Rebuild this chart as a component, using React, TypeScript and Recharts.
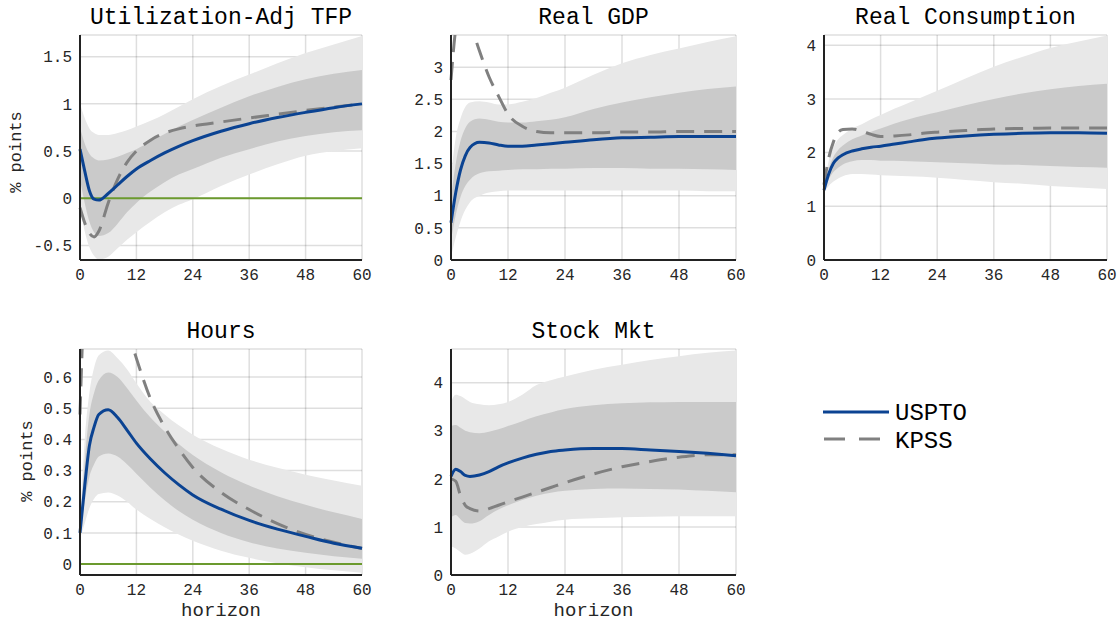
import { ComposedChart, Area, Line, XAxis, YAxis, CartesianGrid, ReferenceLine } from 'recharts';

const horizons = [0, 1, 2, 3, 4, 6, 8, 10, 12, 15, 18, 21, 24, 30, 36, 42, 48, 54, 60];
const xTicks = [0, 12, 24, 36, 48, 60];

// Utilization-Adj TFP
const tfpUspto = [0.52, 0.29, 0.08, -0.01, -0.02, 0.05, 0.14, 0.23, 0.31, 0.40, 0.48, 0.55, 0.61, 0.71, 0.79, 0.855, 0.91, 0.96, 1.00];
const tfpKpss = [-0.10, -0.26, -0.37, -0.41, -0.35, -0.05, 0.20, 0.38, 0.50, 0.615, 0.69, 0.735, 0.765, 0.808, 0.85, 0.89, 0.93, 0.965, 1.00];
const tfpHi90 = [1.00, 0.85, 0.74, 0.69, 0.67, 0.67, 0.69, 0.72, 0.76, 0.82, 0.89, 0.97, 1.05, 1.19, 1.31, 1.43, 1.54, 1.63, 1.72];
const tfpLo90 = [-0.10, -0.35, -0.52, -0.61, -0.65, -0.62, -0.53, -0.44, -0.36, -0.25, -0.15, -0.07, -0.01, 0.13, 0.25, 0.36, 0.45, 0.50, 0.53];
const tfpHi68 = [0.75, 0.58, 0.47, 0.42, 0.40, 0.41, 0.44, 0.48, 0.52, 0.60, 0.68, 0.76, 0.83, 0.96, 1.08, 1.18, 1.26, 1.32, 1.36];
const tfpLo68 = [0.20, -0.05, -0.25, -0.36, -0.40, -0.37, -0.27, -0.15, -0.05, 0.07, 0.17, 0.25, 0.31, 0.43, 0.52, 0.60, 0.66, 0.70, 0.72];

// Real GDP
const gdpUspto = [0.58, 1.05, 1.40, 1.62, 1.75, 1.83, 1.82, 1.79, 1.77, 1.77, 1.79, 1.81, 1.83, 1.87, 1.90, 1.91, 1.92, 1.92, 1.92];
const gdpKpss = [2.80, 3.60, 3.90, 3.90, 3.70, 3.25, 2.85, 2.55, 2.27, 2.08, 2.00, 1.98, 1.98, 1.98, 1.99, 1.99, 2.00, 2.00, 2.00];
const gdpHi90 = [1.30, 1.90, 2.20, 2.38, 2.45, 2.47, 2.45, 2.42, 2.42, 2.46, 2.52, 2.60, 2.68, 2.88, 3.06, 3.19, 3.29, 3.39, 3.48];
const gdpLo90 = [0.05, 0.35, 0.60, 0.78, 0.90, 1.00, 1.05, 1.07, 1.08, 1.08, 1.08, 1.08, 1.08, 1.08, 1.08, 1.08, 1.08, 1.07, 1.07];
const gdpHi68 = [0.95, 1.50, 1.85, 2.05, 2.15, 2.20, 2.18, 2.15, 2.14, 2.14, 2.16, 2.18, 2.22, 2.35, 2.45, 2.53, 2.60, 2.66, 2.70];
const gdpLo68 = [0.30, 0.70, 0.98, 1.15, 1.25, 1.35, 1.38, 1.39, 1.40, 1.41, 1.41, 1.42, 1.42, 1.43, 1.43, 1.42, 1.42, 1.41, 1.40];

// Real Consumption
const conUspto = [1.30, 1.60, 1.80, 1.90, 1.96, 2.03, 2.07, 2.10, 2.12, 2.16, 2.20, 2.24, 2.27, 2.31, 2.34, 2.36, 2.37, 2.37, 2.36];
const conKpss = [1.40, 1.90, 2.20, 2.38, 2.43, 2.44, 2.40, 2.34, 2.30, 2.31, 2.33, 2.36, 2.38, 2.41, 2.44, 2.45, 2.46, 2.46, 2.46];
const conHi90 = [1.35, 1.85, 2.10, 2.25, 2.33, 2.45, 2.53, 2.62, 2.70, 2.82, 2.93, 3.04, 3.15, 3.38, 3.60, 3.78, 3.95, 4.07, 4.18];
const conLo90 = [1.25, 1.38, 1.46, 1.52, 1.56, 1.60, 1.60, 1.59, 1.58, 1.57, 1.56, 1.55, 1.53, 1.49, 1.45, 1.42, 1.38, 1.35, 1.32];
const conHi68 = [1.32, 1.70, 1.92, 2.05, 2.13, 2.25, 2.32, 2.39, 2.45, 2.54, 2.62, 2.69, 2.75, 2.88, 3.00, 3.10, 3.18, 3.24, 3.28];
const conLo68 = [1.28, 1.50, 1.64, 1.72, 1.78, 1.84, 1.86, 1.86, 1.85, 1.85, 1.84, 1.83, 1.82, 1.80, 1.78, 1.77, 1.75, 1.73, 1.72];

// Hours
const hrsUspto = [0.10, 0.25, 0.38, 0.44, 0.48, 0.495, 0.47, 0.43, 0.388, 0.337, 0.293, 0.255, 0.222, 0.176, 0.14, 0.112, 0.089, 0.067, 0.051];
const hrsKpss = [0.48, 0.90, 1.10, 1.15, 1.12, 1.00, 0.87, 0.76, 0.66, 0.53, 0.44, 0.37, 0.31, 0.23, 0.175, 0.13, 0.095, 0.07, 0.05];
const hrsHi90 = [0.12, 0.40, 0.55, 0.63, 0.67, 0.685, 0.66, 0.625, 0.58, 0.52, 0.48, 0.445, 0.415, 0.37, 0.335, 0.309, 0.287, 0.268, 0.251];
const hrsLo90 = [0.08, 0.13, 0.18, 0.21, 0.225, 0.23, 0.22, 0.20, 0.175, 0.145, 0.118, 0.095, 0.075, 0.043, 0.02, 0.003, -0.01, -0.02, -0.028];
const hrsHi68 = [0.11, 0.33, 0.48, 0.55, 0.59, 0.615, 0.60, 0.565, 0.525, 0.47, 0.425, 0.385, 0.35, 0.295, 0.252, 0.218, 0.19, 0.166, 0.145];
const hrsLo68 = [0.09, 0.20, 0.28, 0.32, 0.345, 0.355, 0.345, 0.32, 0.29, 0.245, 0.205, 0.17, 0.142, 0.10, 0.07, 0.05, 0.036, 0.025, 0.017];

// Stock Mkt
const stkUspto = [2.05, 2.20, 2.15, 2.07, 2.05, 2.08, 2.15, 2.25, 2.33, 2.43, 2.51, 2.57, 2.60, 2.63, 2.63, 2.60, 2.57, 2.53, 2.48];
const stkKpss = [2.00, 1.95, 1.65, 1.45, 1.38, 1.33, 1.38, 1.45, 1.52, 1.62, 1.72, 1.82, 1.92, 2.10, 2.25, 2.36, 2.45, 2.50, 2.50];
const stkHi90 = [3.60, 3.75, 3.72, 3.66, 3.60, 3.55, 3.53, 3.55, 3.60, 3.75, 3.95, 4.05, 4.13, 4.27, 4.37, 4.47, 4.55, 4.62, 4.67];
const stkLo90 = [0.60, 0.55, 0.48, 0.42, 0.44, 0.55, 0.70, 0.80, 0.90, 1.00, 1.06, 1.11, 1.15, 1.18, 1.20, 1.21, 1.22, 1.22, 1.22];
const stkHi68 = [3.10, 3.12, 3.06, 3.00, 2.97, 2.95, 2.98, 3.03, 3.10, 3.20, 3.30, 3.38, 3.45, 3.53, 3.57, 3.59, 3.60, 3.60, 3.60];
const stkLo68 = [1.20, 1.25, 1.16, 1.08, 1.07, 1.12, 1.25, 1.36, 1.45, 1.56, 1.65, 1.71, 1.75, 1.79, 1.80, 1.79, 1.78, 1.75, 1.72];

const FONT = '"Liberation Mono", "Courier New", monospace';
const BLUE = '#0b4392';
const GRAY = '#808080';
const GREEN = '#6b9a2e';

const buildRows = (u: number[], k: number[], hi90: number[], lo90: number[], hi68: number[], lo68: number[]) =>
  horizons.map((h, i) => ({
    h,
    uspto: u[i],
    kpss: k[i],
    band90: [lo90[i], hi90[i]],
    band68: [lo68[i], hi68[i]],
  }));

const panels = [
  { title: 'Utilization-Adj TFP', left: 80, top: 35, w: 282, h: 225, domain: [-0.655, 1.73], yTicks: [-0.5, 0, 0.5, 1, 1.5],
    rows: buildRows(tfpUspto, tfpKpss, tfpHi90, tfpLo90, tfpHi68, tfpLo68), ylabel: { x: 21, y: 152 } },
  { title: 'Real GDP', left: 451, top: 35, w: 285, h: 225, domain: [0, 3.5], yTicks: [0, 0.5, 1, 1.5, 2, 2.5, 3],
    rows: buildRows(gdpUspto, gdpKpss, gdpHi90, gdpLo90, gdpHi68, gdpLo68) },
  { title: 'Real Consumption', left: 824, top: 35, w: 283, h: 225, domain: [0, 4.19], yTicks: [0, 1, 2, 3, 4],
    rows: buildRows(conUspto, conKpss, conHi90, conLo90, conHi68, conLo68) },
  { title: 'Hours', left: 80, top: 349, w: 282, h: 226, domain: [-0.035, 0.69], yTicks: [0, 0.1, 0.2, 0.3, 0.4, 0.5, 0.6],
    rows: buildRows(hrsUspto, hrsKpss, hrsHi90, hrsLo90, hrsHi68, hrsLo68), ylabel: { x: 32, y: 461 }, xlabel: true },
  { title: 'Stock Mkt', left: 451, top: 349, w: 285, h: 226, domain: [0, 4.7], yTicks: [0, 1, 2, 3, 4],
    rows: buildRows(stkUspto, stkKpss, stkHi90, stkLo90, stkHi68, stkLo68), xlabel: true },
];

const Y_W = 60;
const M = { top: 5, right: 20, left: 0, bottom: 0 };
const X_H = 30;

function Panel({ p }: { p: any }) {
  return (
    <div style={{ position: 'absolute', left: p.left - Y_W - M.left, top: p.top - M.top }}>
      <ComposedChart width={p.w + Y_W + M.left + M.right} height={p.h + M.top + M.bottom + X_H} data={p.rows} margin={M}>
        <Area dataKey="band90" type="monotone" stroke="none" fill="#e8e8e8" fillOpacity={1} isAnimationActive={false} activeDot={false} />
        <Area dataKey="band68" type="monotone" stroke="none" fill="#cacaca" fillOpacity={1} isAnimationActive={false} activeDot={false} />
        <CartesianGrid stroke="#000" strokeOpacity={0.13} strokeWidth={1.5} />
        <XAxis dataKey="h" type="number" domain={[0, 60]} ticks={xTicks} tickLine={false} tickSize={0} tickMargin={9}
          axisLine={{ stroke: '#222', strokeWidth: 2 }} tick={{ fontFamily: FONT, fontSize: 16, fill: '#262626' }} height={X_H} />
        <YAxis type="number" domain={p.domain} ticks={p.yTicks} allowDataOverflow tickLine={false} tickSize={0} tickMargin={8}
          axisLine={{ stroke: '#222', strokeWidth: 2 }} tick={{ fontFamily: FONT, fontSize: 16, fill: '#262626' }} width={Y_W}
          tickFormatter={(v: number) => String(v)} />
        <ReferenceLine y={0} stroke={GREEN} strokeWidth={2} />
        <Line dataKey="kpss" type="monotone" stroke={GRAY} strokeWidth={3} strokeDasharray="18 10" dot={false} activeDot={false} isAnimationActive={false} />
        <Line dataKey="uspto" type="monotone" stroke={BLUE} strokeWidth={3} dot={false} activeDot={false} isAnimationActive={false} />
      </ComposedChart>
    </div>
  );
}

export default function App() {
  return (
    <div style={{ position: 'absolute', left: 0, top: 0, width: 1120, height: 623, background: '#fff', overflow: 'hidden' }}>
      {panels.map((p) => <Panel key={p.title} p={p} />)}
      <svg width={1120} height={623} style={{ position: 'absolute', left: 0, top: 0, pointerEvents: 'none' }}>
        {panels.map((p) => (
          <text key={p.title} x={p.left + p.w / 2} y={p.top - 11} textAnchor="middle" fontFamily={FONT} fontSize={23} fill="#000">
            {p.title}
          </text>
        ))}
        {panels.filter((p) => p.ylabel).map((p) => (
          <text key={'yl' + p.title} x={p.ylabel.x} y={p.ylabel.y} transform={`rotate(-90 ${p.ylabel.x} ${p.ylabel.y})`}
            textAnchor="middle" fontFamily={FONT} fontSize={17} fill="#262626">% points</text>
        ))}
        {panels.filter((p) => p.xlabel).map((p) => (
          <text key={'xl' + p.title} x={p.left + p.w / 2} y={616} textAnchor="middle" fontFamily={FONT} fontSize={19} fill="#262626">horizon</text>
        ))}
        <line x1={823} x2={889} y1={412} y2={412} stroke={BLUE} strokeWidth={3} />
        <text x={895} y={420} fontFamily={FONT} fontSize={24} fill="#000">USPTO</text>
        <line x1={824} x2={889} y1={439} y2={439} stroke={GRAY} strokeWidth={3} strokeDasharray="21 14" />
        <text x={895} y={448} fontFamily={FONT} fontSize={24} fill="#000">KPSS</text>
      </svg>
    </div>
  );
}
